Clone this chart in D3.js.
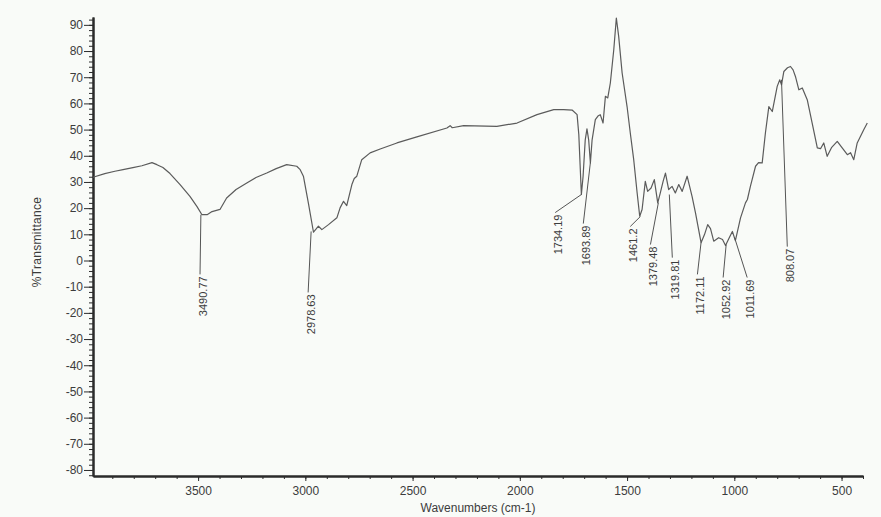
<!DOCTYPE html>
<html>
<head>
<meta charset="utf-8">
<script src="https://cdn.jsdelivr.net/npm/d3@7"></script>
<style>
    body { margin: 0; background: #f9fbf8; }
    svg { display: block; font-family: 'Liberation Sans', Arial, sans-serif; }
    .axis path, .axis line { stroke: #2b2b2b; }
    .axis path { stroke-width: 2; }
    .axis text { fill: #3c3c3c; font-size: 12px; }
    .spectrum { fill: none; stroke: #5b5b5b; stroke-width: 1.2; stroke-linejoin: round; }
    .leader { stroke: #555; stroke-width: 1; }
    .peak-label { fill: #3c3c3c; font-size: 11px; }
    .title { fill: #3c3c3c; font-size: 12px; }
</style>
</head>
<body>
<div id="chart"></div>
<script>
// IR spectrum (cm-1, %T)
const wavenumber = [3990, 3935, 3888, 3850, 3804, 3762, 3715, 3692, 3664, 3631,
    3584, 3538, 3505, 3482, 3458, 3435, 3398, 3367, 3323, 3273,
    3230, 3180, 3136, 3087, 3040, 3024, 3009, 2986, 2962, 2939,
    2923, 2892, 2853, 2838, 2822, 2807, 2783, 2772, 2760, 2737,
    2698, 2651, 2573, 2480, 2340, 2325, 2315, 2262, 2107, 2013,
    1920, 1842, 1796, 1755, 1733, 1725, 1718, 1713, 1705, 1695,
    1687, 1679, 1671, 1663, 1648, 1634, 1625, 1612, 1601, 1590,
    1578, 1562, 1550, 1539, 1523, 1500, 1485, 1469, 1453, 1441,
    1430, 1415, 1404, 1388, 1373, 1357, 1345, 1332, 1321, 1306,
    1290, 1275, 1259, 1243, 1220, 1197, 1181, 1155, 1139, 1124,
    1111, 1096, 1073, 1055, 1041, 1023, 1009, 995, 971, 948,
    939, 925, 901, 887, 870, 855, 839, 823, 800, 788,
    780, 769, 752, 738, 726, 715, 699, 683, 660, 637,
    613, 598, 583, 567, 547, 520, 497, 473, 458, 443,
    427, 396, 380];
const transmittance = [31.8, 33.2, 34.1, 34.7, 35.5, 36.2, 37.4, 36.6, 35.5, 33.2,
    29.0, 24.5, 20.6, 17.5, 17.5, 18.7, 19.5, 23.9, 27.1, 29.6,
    31.7, 33.4, 35.1, 36.6, 36.0, 34.7, 32.2, 22.0, 10.8, 13.1,
    11.8, 13.7, 16.3, 20.1, 22.6, 21.0, 29.0, 31.3, 32.2, 38.5,
    41.1, 42.6, 44.9, 47.2, 50.6, 51.5, 50.7, 51.5, 51.2, 52.5,
    55.7, 57.6, 57.6, 57.4, 55.7, 48.1, 34.7, 25.2, 32.2, 46.1,
    50.3, 46.1, 37.3, 46.1, 53.8, 55.3, 55.7, 52.5, 62.7, 62.1,
    67.8, 80.5, 92.6, 85.5, 71.6, 58.8, 48.7, 38.5, 25.8, 16.9,
    19.5, 30.2, 26.4, 27.7, 30.9, 22.0, 25.8, 30.2, 33.4, 27.1,
    28.3, 25.8, 29.0, 26.4, 32.2, 24.5, 18.2, 6.8, 9.9, 13.7,
    12.2, 7.4, 8.7, 8.0, 5.7, 8.8, 11.1, 7.6, 16.3, 22.0,
    23.3, 28.3, 36.0, 37.4, 37.3, 48.7, 58.8, 56.9, 66.5, 69.0,
    67.1, 72.2, 73.6, 74.1, 72.8, 70.3, 65.2, 65.9, 61.4, 52.5,
    43.0, 42.7, 44.9, 39.8, 43.1, 45.5, 43.0, 40.4, 41.2, 38.5,
    44.9, 50.0, 52.5];

// peak annotations: label, where the leader leaves the trace, where it ends
const peakLabels = ['3490.77', '2978.63', '1734.19', '1693.89', '1461.2', '1379.48',
    '1319.81', '1172.11', '1052.92', '1011.69', '808.07'];
const leaderFromW = [3487, 2973, 1713, 1671, 1438, 1354, 1303, 1155, 1038, 999, 780];
const leaderFromT = [17.5, 11.1, 25.2, 37.4, 16.8, 22.1, 25.2, 6.9, 6.1, 8.8, 69.0];
const leaderToW = [3491, 2987, 1835, 1704, 1485, 1391, 1289, 1172, 1052, 940, 753];
const leaderToT = [-5.3, -12.2, 18.3, 14.1, 13.0, 6.1, 1.1, -5.3, -6.5, -6.5, 5.3];

const xTicks = [3500, 3000, 2500, 2000, 1500, 1000, 500];
const yTicks = [-80, -70, -60, -50, -40, -30, -20, -10, 0, 10, 20, 30, 40, 50, 60, 70, 80, 90];

let svg;
let x;
let y;
const width = 881;
const height = 517;
// plain labels: no thousands separator, ascii hyphen for negatives
const plain = (d) => String(d);

function prepare() {
    svg = d3.select('#chart').append('svg')
        .attr('width', width).attr('height', height);

    svg.append('rect').attr('width', width).attr('height', height).attr('fill', '#f9fbf8');

    x = d3.scaleLinear().domain([3990, 400]).range([93, 863]);
    y = d3.scaleLinear().domain([-82.3, 93]).range([476, 17]);
}

function drawAxes() {
    // minor ticks first so the main axis line sits on top
    svg.append('g').attr('class', 'axis')
        .attr('transform', 'translate(0,' + y.range()[0] + ')')
        .call(d3.axisBottom(x).tickValues(d3.range(3900, 399, -100)).tickSize(3).tickSizeOuter(0).tickFormat(''));
    svg.append('g').attr('class', 'axis')
        .attr('transform', 'translate(' + x.range()[0] + ',0)')
        .call(d3.axisLeft(y).tickValues(d3.range(-82, 93, 2)).tickSize(4).tickSizeOuter(0).tickFormat(''));

    svg.append('g').attr('class', 'axis')
        .attr('transform', 'translate(0,' + y.range()[0] + ')')
        .call(d3.axisBottom(x).tickValues(xTicks).tickSize(5).tickSizeOuter(0).tickPadding(5).tickFormat(plain));
    svg.append('g').attr('class', 'axis')
        .attr('transform', 'translate(' + x.range()[0] + ',0)')
        .call(d3.axisLeft(y).tickValues(yTicks).tickSize(9).tickSizeOuter(0).tickPadding(1).tickFormat(plain));

    svg.append('text').attr('class', 'title')
        .attr('x', 478).attr('y', 512)
        .attr('text-anchor', 'middle')
        .text('Wavenumbers (cm-1)');

    svg.append('text').attr('class', 'title')
        .attr('transform', 'translate(41,242) rotate(-90)')
        .attr('text-anchor', 'middle')
        .attr('letter-spacing', '0.3')
        .text('%Transmittance');
}

function drawSpectrum() {
    const points = wavenumber.map((w, i) => [w, transmittance[i]]);
    const line = d3.line().x((d) => x(d[0])).y((d) => y(d[1]));

    svg.append('path').attr('class', 'spectrum').attr('d', line(points));
}

function drawPeaks() {
    const g = svg.append('g').attr('class', 'peaks');
    const peaks = peakLabels.map((label, i) => ({
        label: label,
        x1: x(leaderFromW[i]), y1: y(leaderFromT[i]),
        x2: x(leaderToW[i]), y2: y(leaderToT[i])
    }));

    g.selectAll('line').data(peaks).enter()
        .append('line').attr('class', 'leader')
        .attr('x1', (d) => d.x1).attr('y1', (d) => d.y1)
        .attr('x2', (d) => d.x2).attr('y2', (d) => d.y2);

    g.selectAll('text').data(peaks).enter()
        .append('text').attr('class', 'peak-label')
        .attr('transform', (d) => 'translate(' + (d.x2 + 3) + ',' + (d.y2 + 2) + ') rotate(-90)')
        .attr('text-anchor', 'end')
        .attr('dy', '0.35em')
        .text((d) => d.label);
}

prepare();
drawAxes();
drawSpectrum();
drawPeaks();
</script>
</body>
</html>
